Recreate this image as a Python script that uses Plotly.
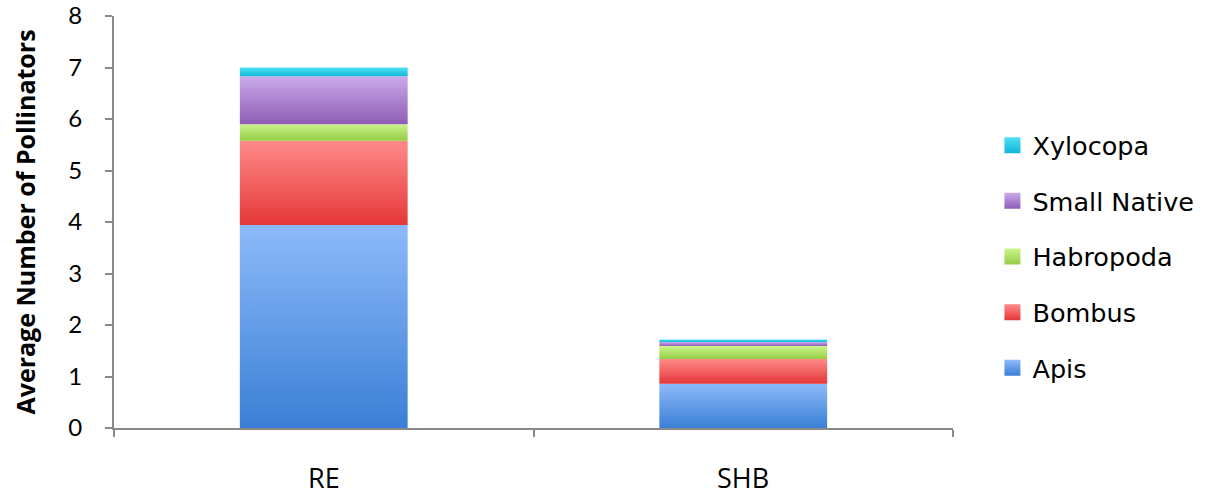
import plotly.graph_objects as go

# Average pollinator counts per site, stacked by pollinator group
sites = ["RE", "SHB"]
groups = ["Apis", "Bombus", "Habropoda", "Small Native", "Xylocopa"]
apis = [3.94, 0.86]
bombus = [1.64, 0.48]
habropoda = [0.32, 0.25]
small_native = [0.93, 0.08]
xylocopa = [0.17, 0.05]
y_ticks = [0, 1, 2, 3, 4, 5, 6, 7, 8]

series = [apis, bombus, habropoda, small_native, xylocopa]
# (bottom colour, top colour) for each group
palette = [
    ("#3a7fd5", "#8dbafa"),
    ("#e53737", "#ff8b8b"),
    ("#93cd45", "#cdf48d"),
    ("#8e5cb5", "#cbaaea"),
    ("#0fb6d6", "#4fe2f4"),
]

OPEN = "Open Sans, sans-serif"
WIDE = "DejaVu Sans, sans-serif"
LATO = "Lato, Open Sans, sans-serif"
BAR_HALF = 0.2
fig = go.Figure()

# gradient-filled stacked segments
for i, site in enumerate(sites):
    base = 0.0
    for values, (c0, c1) in zip(series, palette):
        top = base + values[i]
        x0, x1 = i - BAR_HALF, i + BAR_HALF
        fig.add_trace(go.Scatter(
            x=[x0, x1, x1, x0, x0],
            y=[base, base, top, top, base],
            mode="lines",
            line=dict(width=0),
            fill="toself",
            fillgradient=dict(type="vertical", colorscale=[[0, c0], [1, c1]]),
            showlegend=False,
            hoverinfo="skip",
        ))
        base = top

# legend swatches, top of the stack listed first
for name, (c0, c1) in reversed(list(zip(groups, palette))):
    fig.add_trace(go.Scatter(
        x=[None], y=[None], name=name, mode="markers", legendgroup=name,
        marker=dict(symbol="square", size=16, color=c1,
                    gradient=dict(type="vertical", color=c0)),
    ))

for i, site in enumerate(sites):
    fig.add_annotation(x=i, y=0, xref="x", yref="paper", text=site,
                       showarrow=False, yanchor="top", yshift=-29,
                       font=dict(size=27, color="#000000", family=OPEN))

axis_col = "#8a8a8a"
fig.update_layout(
    width=1211, height=495,
    margin=dict(l=114, r=254, t=16, b=67),
    paper_bgcolor="white", plot_bgcolor="white",
    font=dict(family=OPEN, color="#000000"),
    showlegend=True,
    legend=dict(
        traceorder="grouped",
        x=1.047, y=0.416, xanchor="left", yanchor="middle",
        font=dict(size=25.5, family=WIDE),
        tracegroupgap=19.5,
        itemsizing="trace",
    ),
    xaxis=dict(
        range=[-0.5, 1.5],
        tickvals=[-0.5, 0.5, 1.5],
        showticklabels=False,
        ticks="outside", ticklen=7, tickwidth=2, tickcolor=axis_col,
        showline=True, linecolor=axis_col, linewidth=2,
        showgrid=False, zeroline=False, automargin=False,
    ),
    yaxis=dict(
        range=[0, 8],
        tickvals=y_ticks,
        ticks="outside", ticklen=7, tickwidth=2, tickcolor=axis_col,
        ticklabelstandoff=18,
        tickfont=dict(size=24, family=LATO),
        showline=True, linecolor=axis_col, linewidth=2,
        showgrid=False, zeroline=False, automargin=False,
        title=dict(text="<b>Average Number of Pollinators</b>",
                   font=dict(size=25, family=OPEN), standoff=26),
    ),
)

fig.write_html("out.html")
